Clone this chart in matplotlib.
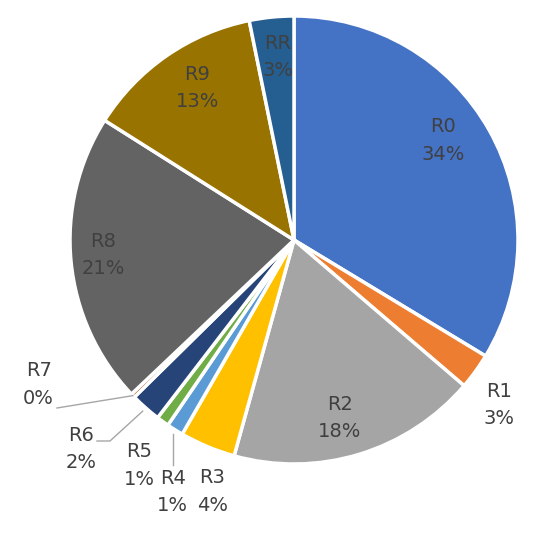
import numpy as np
import matplotlib
matplotlib.use("Agg")
import matplotlib.pyplot as plt

# slice values (percent)
names = ["R0", "R1", "R2", "R3", "R4", "R5", "R6", "R7", "R8", "R9", "RR"]
shares = [33.6, 2.6, 18.0, 4.0, 1.2, 0.9, 2.2, 0.3, 21.0, 12.8, 3.2]
colors = ["#4472C4", "#ED7D31", "#A5A5A5", "#FFC000", "#5B9BD5", "#70AD47",
          "#264478", "#9E480E", "#636363", "#997300", "#255E91"]

# label placement (radius, angle in deg) relative to pie centre
label_pos = {
    "R0": (0.80, 33.7), "R1": (1.175, -38.8), "R2": (0.82, -75.5),
    "R3": (1.18, -108.0), "R4": (1.25, -115.7), "R5": (1.22, -124.4),
    "R6": (1.33, -135.5), "R7": (1.31, -150.5), "R8": (0.855, 184.5),
    "R9": (0.805, 122.5), "RR": (0.82, 95.0),
}

W, H = 550, 539
cx, cy, rad = 294, 240, 224  # pie centre / radius in pixels

fig = plt.figure(figsize=(W / 100, H / 100), dpi=100)
ax = fig.add_axes([0, 0, 1, 1])

wedges, _ = ax.pie(shares, colors=colors, startangle=90, counterclock=False,
                   radius=1.0, wedgeprops=dict(edgecolor="white", linewidth=2.5))

ax.set_aspect("auto")
ax.set_xlim(-cx / rad, (W - cx) / rad)
ax.set_ylim(-(H - cy) / rad, cy / rad)
ax.axis("off")

txt_color = "#404040"
for n, v in zip(names, shares):
    r, a = label_pos[n]
    x, y = r * np.cos(np.deg2rad(a)), r * np.sin(np.deg2rad(a))
    ax.text(x, y, f"{n}\n{round(v):.0f}%", ha="center", va="center",
            fontsize=14, color=txt_color, linespacing=1.55)

# leader lines for the crowded small slices
def wedge_point(w, r=1.02):
    mid = np.deg2rad((w.theta1 + w.theta2) / 2)
    return r * np.cos(mid), r * np.sin(mid)

def px(p):
    return (p[0] - cx) / rad, (cy - p[1]) / rad

lc = "#A6A6A6"
i7, i6, i4 = names.index("R7"), names.index("R6"), names.index("R4")
x0, y0 = wedge_point(wedges[i7], 1.0)
x1, y1 = px((57, 408))
ax.plot([x0, x1], [y0, y1], color=lc, lw=1)
x0, y0 = wedge_point(wedges[i6], 1.02)
xa, ya = px((110, 441))
xb, yb = px((97, 441))
ax.plot([x0, xa, xb], [y0, ya, yb], color=lc, lw=1)
x0, y0 = wedge_point(wedges[i4], 1.02)
ax.plot([x0, x0], [y0, px((172, 465))[1]], color=lc, lw=1)

fig.savefig("out.png", dpi=100)
